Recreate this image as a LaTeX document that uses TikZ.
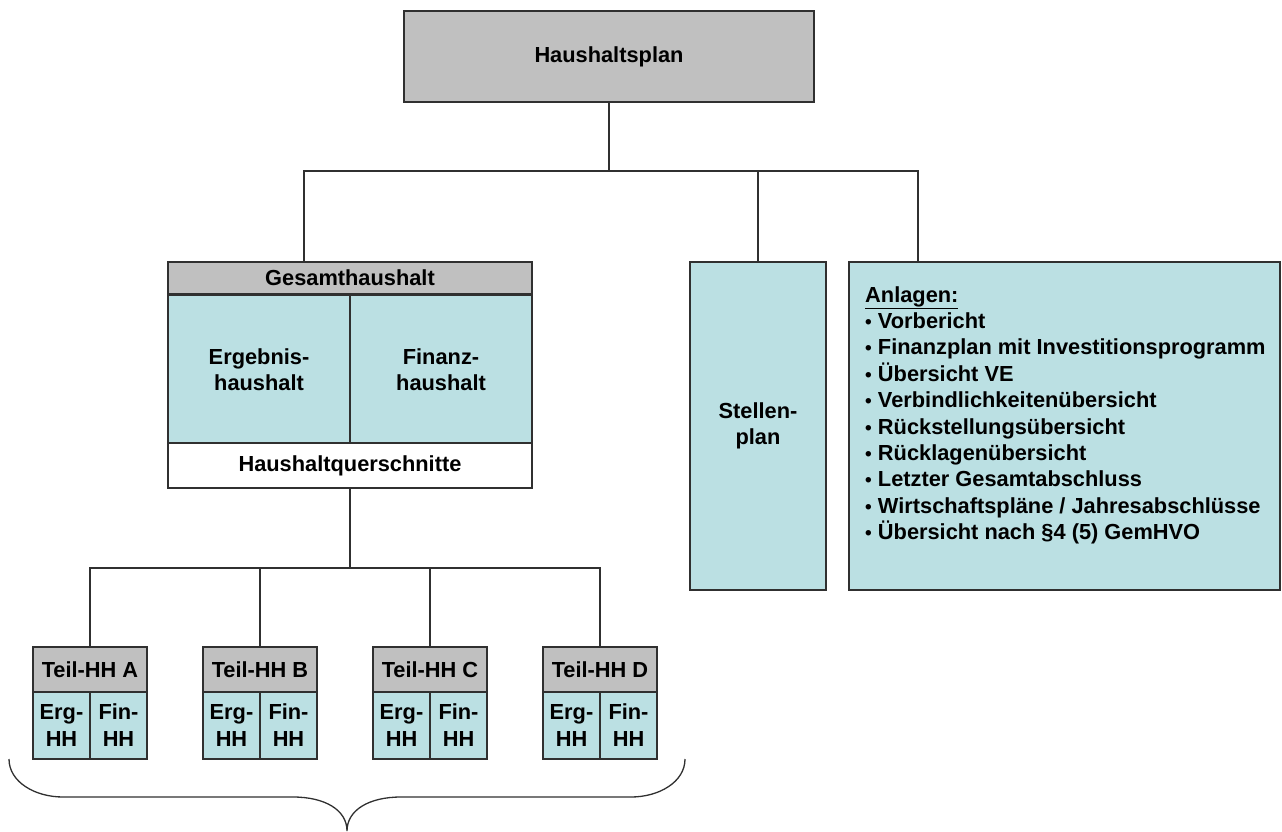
\documentclass[tikz,border=0pt]{standalone}
\usepackage{fontspec}
\setmainfont{Liberation Sans}
\definecolor{hhgray}{HTML}{C0C0C0}
\definecolor{hhblue}{HTML}{BBE0E3}
\definecolor{hhline}{HTML}{303030}
\newcommand{\hhbul}{{\fontsize{19}{19}\selectfont•}\hspace{0.28em}}
\begin{document}
\begin{tikzpicture}[x=1pt,y=-1pt,
  every node/.style={font=\fontsize{21.8}{26}\selectfont\bfseries, inner sep=0pt, align=center, text=black},
  boxbase/.style={draw=hhline, line width=1.3pt},
  gbox/.style={boxbase, fill=hhgray},
  bbox/.style={boxbase, fill=hhblue},
  wbox/.style={boxbase, fill=white},
  conn/.style={draw=hhline, line width=1.3pt}]
\useasboundingbox (0,0) rectangle (1282,832);

% top
\node[gbox, minimum width=410pt, minimum height=91pt] (hp) at (609,56.5) {Haushaltsplan};

% Gesamthaushalt
\node[gbox, minimum width=364pt, minimum height=32pt] (gh) at (350,278) {Gesamthaushalt};
\node[bbox, minimum width=182pt, minimum height=149pt] (eh) at (259,369.5) {Ergebnis-\\haushalt};
\node[bbox, minimum width=182pt, minimum height=149pt] (fh) at (441,369.5) {Finanz-\\haushalt};
\node[wbox, minimum width=364pt, minimum height=45pt] (hq) at (350,465.5) {Haushaltquerschnitte};

% Stellenplan, Anlagen
\node[bbox, minimum width=136pt, minimum height=328pt] (sp) at (758,426) {Stellen-\\plan};
\node[bbox, minimum width=431pt, minimum height=328pt] (an) at (1064.5,426) {};
\foreach [count=\i from 0] \t in {{\underline{Anlagen:}},{\hhbul Vorbericht},{\hhbul Finanzplan mit Investitionsprogramm},{\hhbul Übersicht VE},{\hhbul Verbindlichkeitenübersicht},{\hhbul Rückstellungsübersicht},{\hhbul Rücklagenübersicht},{\hhbul Letzter Gesamtabschluss},{\hhbul Wirtschaftspläne / Jahresabschlüsse},{\hhbul Übersicht nach §4 (5) GemHVO}}
  \node[anchor=base west, align=left] (al\i) at (865,302+26.4*\i) {\t};

% Teil-HH
\foreach \l/\cx in {A/90,B/260,C/430,D/600}{
  \node[gbox, minimum width=114pt, minimum height=45pt] (t\l) at (\cx,669.5) {Teil-HH \l};
  \node[bbox, minimum width=57pt, minimum height=67pt, font=\fontsize{21.8}{27}\selectfont\bfseries] (e\l) at (\cx-28.5,725.5) {Erg-\\HH};
  \node[bbox, minimum width=57pt, minimum height=67pt, font=\fontsize{21.8}{27}\selectfont\bfseries] (f\l) at (\cx+28.5,725.5) {Fin-\\HH};
}

% connectors
\coordinate (bus) at (609,171);
\draw[conn] (hp.south) -- (bus);
\draw[conn] (bus) -| ([xshift=-46pt]gh.north);
\draw[conn] (bus) -| (sp.north);
\draw[conn] (bus) -| ([xshift=-146.5pt]an.north);

\coordinate (bus2) at (350,568);
\draw[conn] (hq.south) -- (bus2);
\foreach \l in {A,B,C,D} \draw[conn] (bus2) -| (t\l.north);

% brace
\draw[conn] (9,759) .. controls (9,782) and (35,797) .. (63,797) -- (293,797)
  .. controls (325,797) and (347,810) .. (347,831)
  .. controls (347,810) and (369,797) .. (401,797) -- (631,797)
  .. controls (659,797) and (685,782) .. (685,759);
\end{tikzpicture}
\end{document}
